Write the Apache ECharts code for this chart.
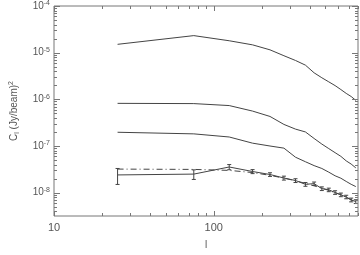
<!DOCTYPE html>
<html><head><meta charset="utf-8">
<script src="https://cdn.jsdelivr.net/npm/echarts@6/dist/echarts.min.js"></script>
<style>html,body{margin:0;padding:0;background:#fff}#c{width:360px;height:255px}</style>
</head><body><div id="c"></div>
<script>
// multipole bins
const ell = [25, 75, 125, 175, 225, 275, 325, 375, 425, 475, 525, 575, 625, 675, 725, 775];
// upper three spectra
const lineA = [1.51e-5, 2.32e-5, 1.8e-5, 1.47e-5, 1.15e-5, 8.6e-6, 6.8e-6, 5.4e-6, 3.7e-6, 2.9e-6, 2.37e-6, 1.97e-6, 1.62e-6, 1.34e-6, 1.15e-6, 9.5e-7];
const lineB = [8.2e-7, 8.1e-7, 7.35e-7, 5.6e-7, 4.3e-7, 2.9e-7, 2.3e-7, 2.0e-7, 1.45e-7, 1.1e-7, 8.8e-8, 7.2e-8, 6.0e-8, 4.8e-8, 4.1e-8, 3.4e-8];
const lineC = [1.97e-7, 1.82e-7, 1.56e-7, 1.15e-7, 1.0e-7, 9.0e-8, 5.75e-8, 4.6e-8, 3.8e-8, 3.3e-8, 2.75e-8, 2.3e-8, 2.04e-8, 1.74e-8, 1.51e-8, 1.35e-8];
// measured spectrum with error bars
const lineD = [2.4e-8, 2.5e-8, 3.55e-8, 2.84e-8, 2.45e-8, 2.06e-8, 1.82e-8, 1.51e-8, 1.56e-8, 1.22e-8, 1.15e-8, 1.01e-8, 9.0e-9, 8.1e-9, 7.0e-9, 6.45e-9];
const errD = [0.9e-8, 0.58e-8, 0.45e-8, 0.28e-8, 0.22e-8, 0.2e-8, 0.17e-8, 0.14e-8, 0.13e-8, 0.11e-8, 0.1e-8, 0.09e-8, 0.08e-8, 0.07e-8, 0.065e-8, 0.06e-8];
// model (dash-dot)
const lineE = [3.2e-8, 3.15e-8, 3.0e-8, 2.7e-8, 2.35e-8, 2.05e-8, 1.8e-8, 1.58e-8, 1.4e-8, 1.25e-8, 1.12e-8, 1.0e-8, 9.0e-9, 8.0e-9, 7.0e-9, 6.3e-9];
// ticks
const xMajorTicks = [10, 100];
const xMinorTicks = [20, 30, 40, 50, 60, 70, 80, 90, 200, 300, 400, 500, 600, 700, 800];
const yMajorTicks = [1e-8, 1e-7, 1e-6, 1e-5, 1e-4];
const yMinorTicks = [4e-9, 5e-9, 6e-9, 7e-9, 8e-9, 9e-9,
  2e-8, 3e-8, 4e-8, 5e-8, 6e-8, 7e-8, 8e-8, 9e-8,
  2e-7, 3e-7, 4e-7, 5e-7, 6e-7, 7e-7, 8e-7, 9e-7,
  2e-6, 3e-6, 4e-6, 5e-6, 6e-6, 7e-6, 8e-6, 9e-6,
  2e-5, 3e-5, 4e-5, 5e-5, 6e-5, 7e-5, 8e-5, 9e-5];
const xMin = 10, xMax = 800, yMin = 3.1623e-9, yMax = 1e-4;

const FONT = 'Liberation Sans';
const axisColor = '#777';
const textColor = '#555';
const lineColor = '#444';

function lineSeries(vals, type) {
  return {
    type: 'line', symbol: 'none', silent: true, animation: false,
    data: ell.map((x, i) => [x, vals[i]]),
    lineStyle: { color: lineColor, width: 1, type: type || 'solid' }
  };
}

function tickSeries(dim) {
  const major = dim === 'x' ? xMajorTicks : yMajorTicks;
  const minor = dim === 'x' ? xMinorTicks : yMinorTicks;
  const data = major.map(v => dim === 'x' ? [v, yMin, 1] : [xMin, v, 1])
    .concat(minor.map(v => dim === 'x' ? [v, yMin, 0] : [xMin, v, 0]));
  return {
    type: 'custom', silent: true, animation: false, clip: false, z: 5,
    data: data, encode: { x: 0, y: 1 },
    renderItem: (params, api) => {
      const v0 = api.value(0), v1 = api.value(1), major = api.value(2) === 1;
      const st = { stroke: axisColor, lineWidth: 1 };
      if (dim === 'x') {
        const len = major ? 5 : 3;
        const b = api.coord([v0, yMin]), t = api.coord([v0, yMax]);
        const x = Math.round(b[0]) + 0.5;
        return { type: 'group', children: [
          { type: 'line', shape: { x1: x, y1: b[1], x2: x, y2: b[1] - len }, style: st },
          { type: 'line', shape: { x1: x, y1: t[1], x2: x, y2: t[1] + len }, style: st }
        ] };
      } else {
        const len = major ? 6 : 3;
        const l = api.coord([xMin, v1]), r = api.coord([xMax, v1]);
        const y = Math.round(l[1]) + 0.5;
        return { type: 'group', children: [
          { type: 'line', shape: { x1: l[0], y1: y, x2: l[0] + len, y2: y }, style: st },
          { type: 'line', shape: { x1: r[0], y1: y, x2: r[0] - len, y2: y }, style: st }
        ] };
      }
    }
  };
}

const option = {
  animation: false,
  backgroundColor: '#fff',
  grid: { left: 42, right: 2, top: 4, bottom: 27, containLabel: false, show: true, borderColor: axisColor, borderWidth: 1 },
  xAxis: {
    type: 'log', logBase: 10, min: xMin, max: xMax,
    axisLine: { show: false }, axisTick: { show: false },
    axisLabel: { show: true, customValues: xMajorTicks, margin: 6, color: textColor, fontSize: 11, fontFamily: FONT,
      formatter: v => String(Math.round(v)) },
    splitLine: { show: false },
    name: 'l', nameLocation: 'middle', nameGap: 24,
    nameTextStyle: { color: textColor, fontSize: 10, fontFamily: FONT }
  },
  yAxis: {
    type: 'log', logBase: 10, min: yMin, max: yMax,
    axisLine: { show: false }, axisTick: { show: false },
    axisLabel: { show: true, customValues: yMajorTicks, margin: 4, color: textColor, fontFamily: FONT,
      formatter: v => '{b|10}{s|' + Math.round(Math.log10(v)) + '}',
      rich: {
        b: { fontSize: 10, lineHeight: 12, color: textColor, fontFamily: FONT },
        s: { fontSize: 7, lineHeight: 6, verticalAlign: 'top', color: textColor, fontFamily: FONT }
      } },
    splitLine: { show: false },
    name: '{b|C}{sub|l}{b| (Jy/beam)}{sup|2}', nameLocation: 'middle', nameGap: 33,
    nameTextStyle: {
      color: textColor, fontFamily: FONT,
      rich: {
        b: { fontSize: 10, lineHeight: 13, color: textColor, fontFamily: FONT },
        sub: { fontSize: 7, lineHeight: 7, verticalAlign: 'bottom', color: textColor, fontFamily: FONT },
        sup: { fontSize: 7, lineHeight: 7, verticalAlign: 'top', color: textColor, fontFamily: FONT }
      }
    }
  },
  series: [
    lineSeries(lineA), lineSeries(lineB), lineSeries(lineC), lineSeries(lineD),
    lineSeries(lineE, [6, 3, 1, 3]),
    {
      type: 'custom', silent: true, animation: false,
      data: ell.map((x, i) => [x, lineD[i], errD[i]]),
      encode: { x: 0, y: 1 },
      renderItem: (params, api) => {
        const x = api.value(0), y = api.value(1), e = api.value(2);
        const t = api.coord([x, y + e]), b = api.coord([x, y - e]);
        const w = 2;
        const st = { stroke: lineColor, lineWidth: 1 };
        return { type: 'group', children: [
          { type: 'line', shape: { x1: t[0], y1: t[1], x2: b[0], y2: b[1] }, style: st },
          { type: 'line', shape: { x1: t[0] - w, y1: t[1], x2: t[0] + w, y2: t[1] }, style: st },
          { type: 'line', shape: { x1: b[0] - w, y1: b[1], x2: b[0] + w, y2: b[1] }, style: st }
        ] };
      }
    },
    tickSeries('x'), tickSeries('y')
  ]
};
const chart = echarts.init(document.getElementById('c'), null, { renderer: 'canvas' });
chart.setOption(option);
</script></body></html>
